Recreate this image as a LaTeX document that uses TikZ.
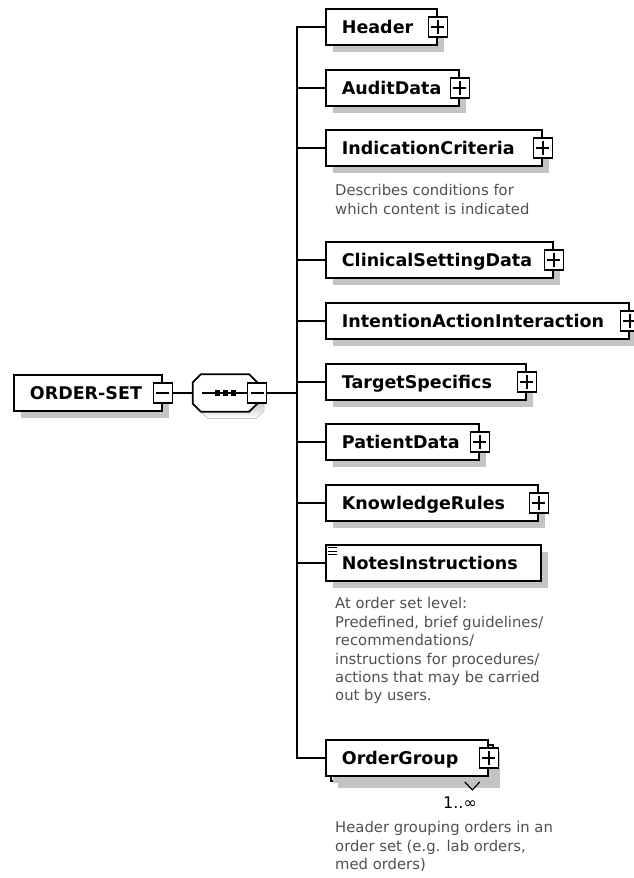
\documentclass[tikz,border=0pt]{standalone}
\usepackage{fontspec}
\setmainfont{DejaVu Sans}
\usetikzlibrary{calc,shadows}

\definecolor{shade}{RGB}{196,196,196}
\definecolor{note}{RGB}{80,80,80}

\tikzset{
  conn/.style={line width=1.8pt},
  elembox/.style={draw, fill=white, line width=1.8pt, anchor=west,
    minimum height=36pt, inner ysep=0pt, inner xsep=16pt, align=left,
    text height=12.8pt, text depth=0pt,
    font=\fontsize{17.5}{20}\selectfont\bfseries,
    drop shadow={shadow xshift=7pt, shadow yshift=-7pt, fill=shade, opacity=1}},
  btn/.style={draw, fill=white, line width=1.5pt, minimum width=19pt,
    minimum height=20pt, inner sep=0pt},
  plusbtn/.style={btn, path picture={
    \draw[line width=1.5pt]
      ([xshift=3pt]path picture bounding box.west) -- ([xshift=-3pt]path picture bounding box.east)
      ([yshift=-3pt]path picture bounding box.north) -- ([yshift=3pt]path picture bounding box.south);}},
  minusbtn/.style={btn, path picture={
    \draw[line width=1.5pt]
      ([xshift=3pt]path picture bounding box.west) -- ([xshift=-3pt]path picture bounding box.east);}},
  desc/.style={anchor=north west, inner sep=0pt, align=left, text=note,
    font=\fontsize{14.8}{18.4}\selectfont},
}

\begin{document}
\begin{tikzpicture}[x=1pt, y=-1pt]
\useasboundingbox (0,0) rectangle (634,878);

% root element and its collapse button
\node[elembox, text width=116pt] (root) at (13,393) {ORDER-SET};
\node[minusbtn] (rootb) at (root.east) {};

% sequence compositor
\node[minimum width=64pt, minimum height=37pt, inner sep=0pt] (seq) at (225,393) {};
\fill[shade] ($(seq.north west)+(15,7)$) -- ($(seq.north east)+(-1,7)$) -- ($(seq.north east)+(7,15)$)
  -- ($(seq.south east)+(7,-1)$) -- ($(seq.south east)+(-1,7)$) -- ($(seq.south west)+(15,7)$)
  -- ($(seq.south west)+(7,-1)$) -- ($(seq.north west)+(7,15)$) -- cycle;
\draw[line width=1.8pt, fill=white] ($(seq.north west)+(8,0)$) -- ($(seq.north east)+(-8,0)$)
  -- ($(seq.north east)+(0,8)$) -- ($(seq.south east)+(0,-8)$) -- ($(seq.south east)+(-8,0)$)
  -- ($(seq.south west)+(8,0)$) -- ($(seq.south west)+(0,-8)$) -- ($(seq.north west)+(0,8)$) -- cycle;
\draw[line width=1.8pt] ($(seq.west)+(9,0)$) -- ($(seq.east)+(-9,0)$);
\foreach \dx in {-10.5,-2.5,5.5}
  \fill ($(seq.center)+(\dx,-3)$) rectangle ++(5,6);
\node[minusbtn] (seqb) at (seq.east) {};
\coordinate (tk) at (297,393);

\draw[conn] (rootb.east) -- (seq.west);
\draw[conn] (seqb.east) -- (tk);

% child elements
\node[elembox, text width=79pt]  (hdr) at (325,27)  {Header};
\node[elembox, text width=101pt] (aud) at (325,88)  {AuditData};
\node[elembox, text width=184pt] (ind) at (325,148) {IndicationCriteria};
\node[elembox, text width=195pt] (cli) at (325,260) {ClinicalSettingData};
\node[elembox, text width=271pt] (itn) at (325,321) {IntentionActionInteraction};
\node[elembox, text width=168pt] (tgt) at (325,382) {TargetSpecifics};
\node[elembox, text width=121pt] (pat) at (325,442) {PatientData};
\node[elembox, text width=180pt] (kno) at (325,503) {KnowledgeRules};
\node[elembox, text width=183pt] (nts) at (325,563) {NotesInstructions};

% repeated element: stacked boxes
\node[elembox, text width=130pt] (ogb) at (330,763) {};
\node[elembox, text width=130pt, drop shadow={opacity=0}] (ogr) at (325,758) {OrderGroup};
\draw[line width=1.2pt] ($(ogb.south east)+(-29,0)$) -- ++(7.5,8) -- ++(7.5,-8);

\foreach \n in {hdr,aud,ind,cli,itn,tgt,pat,kno,ogr}
  \node[plusbtn] (\n b) at (\n.east) {};

% text-content marker
\foreach \dy in {0,3.5,7}
  \draw[line width=1pt] ($(nts.north west)+(3,3.5+\dy)$) -- ++(8.5,0);

% connectors
\foreach \n in {hdr,aud,ind,cli,itn,tgt,pat,kno,nts,ogr}
  \draw[conn] (tk) |- (\n.west);

% annotations
\node[desc] (indd) at (335,184.5) {Describes conditions for\\which content is indicated};
\node[desc] (ntsd) at (335,597.5) {At order set level:\\Predefined, brief guidelines/\\recommendations/\\instructions for procedures/\\actions that may be carried\\out by users.};
\node[anchor=center, inner sep=0pt, font=\fontsize{16}{18}\selectfont] (occ) at (460,803) {1..∞};
\node[desc] (ogrd) at (335,821.5) {Header grouping orders in an\\order set (e.g. lab orders,\\med orders)};
\end{tikzpicture}
\end{document}
